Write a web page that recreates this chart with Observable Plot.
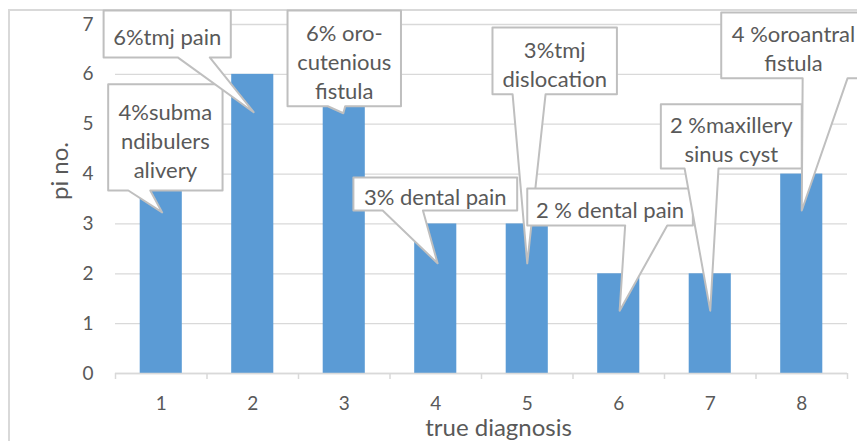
<!DOCTYPE html>
<html>
<head>
<meta charset="utf-8">
<script src="https://cdn.jsdelivr.net/npm/d3@7"></script>
<script src="https://cdn.jsdelivr.net/npm/@observablehq/plot@0.6"></script>
<style>
  html, body { margin: 0; padding: 0; background: #fff; overflow: hidden; }
  #wrap { position: relative; width: 857px; height: 441px; }
  #border { position: absolute; left: 8px; top: 9px; width: 900px; height: 500px;
            border-top: 2px solid #d9d9d9; border-left: 2px solid #d9d9d9; box-sizing: border-box; }
  #chart { position: absolute; left: 0; top: 0; }
  #chart svg { overflow: visible; }
</style>
</head>
<body>
<div id="wrap"><div id="border"></div><div id="chart"></div></div>
<script>
// ---- data ----
const categories = [1, 2, 3, 4, 5, 6, 7, 8];
const values = [4, 6, 6, 3, 3, 2, 2, 4];
const yTicks = [0, 1, 2, 3, 4, 5, 6, 7];
const calloutTexts = [
  "4%subma\nndibulers\nalivery",
  "6%tmj pain",
  "6% oro-\ncutenious\nfistula",
  "3% dental pain",
  "3%tmj\ndislocation",
  "2 % dental pain",
  "2 %maxillery\nsinus cyst",
  "4 %oroantral\nfistula"
];
// callout geometry in data units: box [x1, x2, yTop, yBottom], pointer base [xl, xr], tip [x, y]
const calloutBoxes = [
  [0.42, 1.67, 5.80, 3.67],
  [0.37, 1.76, 7.28, 6.34],
  [2.38, 3.62, 7.28, 5.36],
  [3.10, 4.89, 3.93, 3.27],
  [4.62, 5.98, 6.94, 5.60],
  [5.00, 6.81, 3.71, 2.97],
  [6.46, 8.00, 5.40, 4.11],
  [7.12, 8.70, 7.24, 5.92]
];
const calloutBases = [
  [0.64, 0.88], [1.18, 1.53], [2.82, 3.01], [3.42, 3.86],
  [4.84, 5.20], [6.07, 6.53], [6.72, 7.09], [8.01, 8.50]
];
const calloutTips = [
  [1.01, 3.23], [2.01, 5.24], [2.99, 5.22], [4.02, 2.21],
  [5.00, 2.21], [6.01, 1.26], [7.00, 1.26], [8.00, 3.27]
];

// ---- build tables ----
const bars = categories.map((c, i) => ({cat: c, value: values[i]}));
const polyPts = [];
calloutBoxes.forEach((b, i) => {
  const [x1, x2, yt, yb] = b;
  const [bl, br] = calloutBases[i];
  const [tx, ty] = calloutTips[i];
  [[x1, yt], [x2, yt], [x2, yb], [br, yb], [tx, ty], [bl, yb], [x1, yb]]
    .forEach(([x, y]) => polyPts.push({id: i, x, y}));
});
const labels = calloutBoxes.map((b, i) => ({
  x: (b[0] + b[1]) / 2, y: (b[2] + b[3]) / 2, text: calloutTexts[i]
}));

const textColor = "#595959";
const chart = Plot.plot({
  width: 857,
  height: 441,
  marginTop: 24,
  marginBottom: 68,
  marginLeft: 115,
  marginRight: 10,
  style: {fontFamily: "Lato, 'Open Sans', sans-serif", fontSize: "19px", color: textColor, background: "transparent"},
  x: {domain: [0.5, 8.5]},
  y: {domain: [0, 7]},
  marks: [
    Plot.gridY(yTicks, {stroke: "#d9d9d9", strokeOpacity: 1, strokeWidth: 1.3}),
    Plot.axisY(yTicks, {tickSize: 0, tickPadding: 22, label: null, fontSize: 19, tickFormat: d => String(d)}),
    Plot.rectY(bars, {x1: d => d.cat - 0.23, x2: d => d.cat + 0.23, y: "value", fill: "#5b9bd5"}),
    Plot.ruleY([0], {stroke: "#d9d9d9", strokeWidth: 1.5}),
    Plot.axisX(categories, {tickSize: 0, tickPadding: 23, label: null, fontSize: 19, tickFormat: d => String(d)}),
    Plot.axisX(d3.range(0.5, 9, 1), {tickSize: 6, tickFormat: () => "", stroke: "#d9d9d9", strokeWidth: 1.5, label: null}),
    Plot.text(["true diagnosis"], {frameAnchor: "bottom", dy: 55, dx: 17, fontSize: 24, fill: textColor, lineAnchor: "middle"}),
    Plot.text(["pi no."], {frameAnchor: "left", rotate: -90, dx: -55, dy: 1, fontSize: 24, fill: textColor, lineAnchor: "middle"}),
    Plot.line(polyPts, {x: "x", y: "y", z: "id", curve: "linear-closed", fill: "white", stroke: "#bfbfbf", strokeWidth: 2, clip: false}),
    Plot.text(labels, {x: "x", y: "y", text: "text", fontSize: 22, lineHeight: 1.32, dy: 2, fill: textColor, lineAnchor: "middle"})
  ]
});
document.getElementById("chart").appendChild(chart);
</script>
</body>
</html>
